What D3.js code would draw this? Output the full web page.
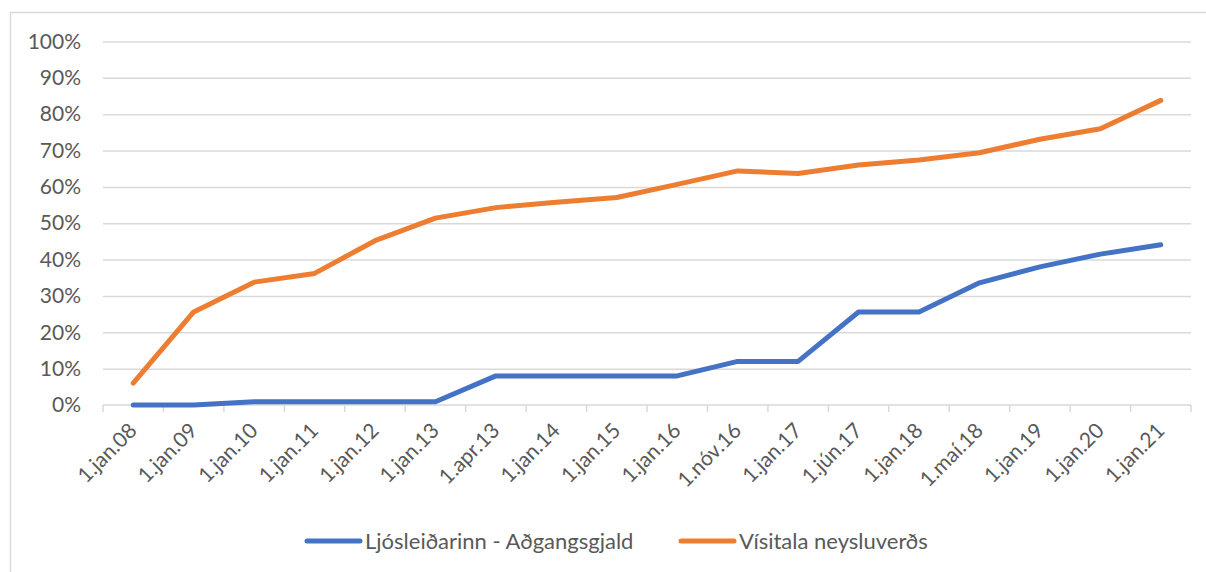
<!DOCTYPE html>
<html>
<head>
<meta charset="utf-8">
<script src="https://cdn.jsdelivr.net/npm/d3@7"></script>
<style>
  body { margin: 0; background: #fff; }
  text { font-family: Lato, "Noto Sans", sans-serif; fill: #595959; }
</style>
</head>
<body>
<div id="chart"></div>
<script>
const categories = ["1.jan.08", "1.jan.09", "1.jan.10", "1.jan.11", "1.jan.12", "1.jan.13",
    "1.apr.13", "1.jan.14", "1.jan.15", "1.jan.16", "1.nóv.16", "1.jan.17", "1.jún.17",
    "1.jan.18", "1.maí.18", "1.jan.19", "1.jan.20", "1.jan.21"];

const ljosleidarinn = [0, 0, 0.009, 0.009, 0.009, 0.009, 0.08, 0.08, 0.08, 0.08,
    0.12, 0.12, 0.256, 0.256, 0.336, 0.38, 0.415, 0.441];

const visitala = [0.06, 0.256, 0.338, 0.362, 0.452, 0.514, 0.543, 0.558, 0.571, 0.607,
    0.644, 0.637, 0.66, 0.674, 0.694, 0.731, 0.76, 0.838];

const yTicks = [0, 0.1, 0.2, 0.3, 0.4, 0.5, 0.6, 0.7, 0.8, 0.9, 1];

const seriesNames = ["Ljósleiðarinn - Aðgangsgjald", "Vísitala neysluverðs"];
const colors = ["#4472C4", "#ED7D31"];

const W = 1206, H = 572;
const margin = { top: 41.5, right: 15, bottom: 167, left: 103 },
    width = W - margin.left - margin.right,
    height = H - margin.top - margin.bottom;

let svg = d3.select("#chart")
    .append("svg")
    .attr("width", W)
    .attr("height", H);

// chart frame
svg.append("rect")
    .attr("x", 10.5)
    .attr("y", 12.5)
    .attr("width", W + 20)
    .attr("height", H + 20)
    .attr("fill", "none")
    .attr("stroke", "#d9d9d9")
    .attr("stroke-width", 1.5);

let group = svg.append("g")
    .attr("transform", "translate(" + margin.left + "," + margin.top + ")");

const x = d3.scaleBand()
    .domain(categories)
    .range([0, 1191 - margin.left])
    .padding(0);

const y = d3.scaleLinear()
    .domain([0, 1])
    .range([height, 0]);

// gridlines
group.append("g")
    .attr("class", "grid")
    .call(d3.axisLeft(y).tickValues(yTicks.slice(1)).tickSize(-x.range()[1]).tickFormat(""))
    .call(g => g.select(".domain").remove())
    .call(g => g.selectAll("line").attr("stroke", "#d9d9d9").attr("stroke-width", 1.5));

// y labels
group.append("g")
    .attr("class", "axis y-axis")
    .call(d3.axisLeft(y).tickValues(yTicks).tickFormat(d3.format(".0%")).tickSize(0).tickPadding(22))
    .call(g => g.select(".domain").remove())
    .call(g => g.selectAll("text").attr("font-size", 21).attr("fill", "#595959"));

// x axis line + boundary ticks
const xAxisG = group.append("g")
    .attr("class", "axis x-axis")
    .attr("transform", `translate(0, ${height})`);

xAxisG.append("line")
    .attr("x1", 0)
    .attr("x2", x.range()[1])
    .attr("stroke", "#d9d9d9")
    .attr("stroke-width", 1.5);

xAxisG.selectAll(".bound")
    .data(categories.map(c => x(c)).concat([x.range()[1]]))
    .enter()
    .append("line")
    .attr("class", "bound")
    .attr("x1", d => d)
    .attr("x2", d => d)
    .attr("y1", 0)
    .attr("y2", 7)
    .attr("stroke", "#d9d9d9")
    .attr("stroke-width", 1.5);

xAxisG.selectAll(".xlabel")
    .data(categories)
    .enter()
    .append("text")
    .attr("class", "xlabel")
    .attr("font-size", 21)
    .attr("text-anchor", "end")
    .attr("transform", d => "translate(" + (x(d) + x.bandwidth() / 2 + 5) + ",27) rotate(-45)")
    .text(d => d);

// lines
const line = d3.line()
    .x((d, i) => x(categories[i]) + x.bandwidth() / 2)
    .y(d => y(d));

[ljosleidarinn, visitala].forEach((s, k) => {
    group.append("path")
        .datum(s)
        .attr("fill", "none")
        .attr("stroke", colors[k])
        .attr("stroke-width", 5)
        .attr("stroke-linejoin", "round")
        .attr("stroke-linecap", "round")
        .attr("d", line);
});

// legend
const legendX = [307, 681];
const legend = svg.append("g").attr("class", "legend");
seriesNames.forEach((name, k) => {
    legend.append("line")
        .attr("x1", legendX[k])
        .attr("x2", legendX[k] + 53)
        .attr("y1", 541)
        .attr("y2", 541)
        .attr("stroke", colors[k])
        .attr("stroke-width", 5)
        .attr("stroke-linecap", "round");
    legend.append("text")
        .attr("x", legendX[k] + 58)
        .attr("y", 541)
        .attr("dy", "0.35em")
        .attr("font-size", 22)
        .text(name);
});
</script>
</body>
</html>
